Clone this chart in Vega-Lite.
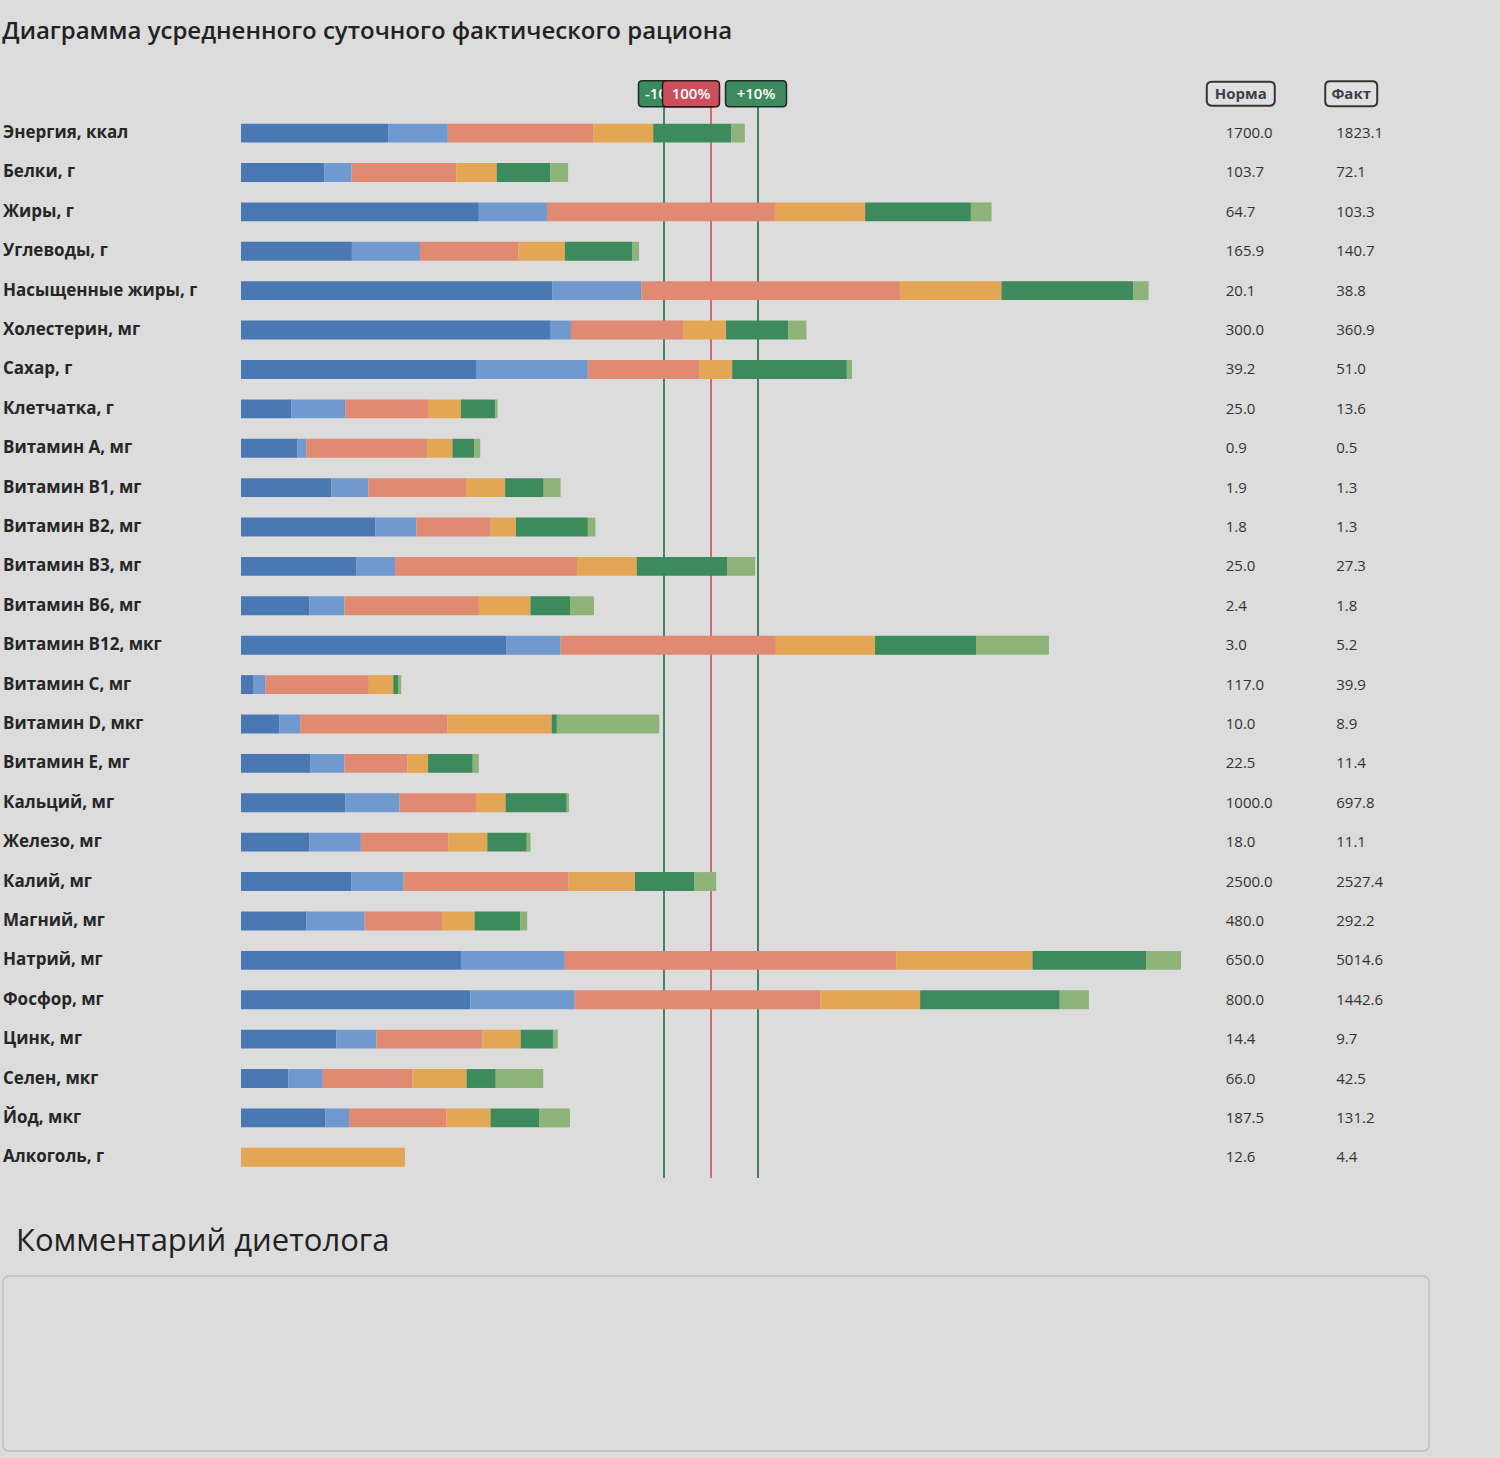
{
  "$schema": "https://vega.github.io/schema/vega-lite/v6.json",
  "background": "#dcdcdc",
  "padding": {"left": 2, "top": 20, "right": 70, "bottom": 6},
  "title": {"text": "Диаграмма усредненного суточного фактического рациона", "anchor": "start", "fontSize": 24, "fontWeight": 600, "font": "Open Sans", "color": "#222222", "offset": 30},
  "config": {"view": {"stroke": null}, "text": {"font": "Open Sans"}},
  "datasets": {
    "nutrients": [
      {"Нутриент": "Энергия, ккал", "Норма": 1700.0, "Факт": 1823.1, "m1": 31.3, "m2": 12.7, "m3": 31.0, "m4": 12.7, "m5": 16.6, "m6": 2.9},
      {"Нутриент": "Белки, г", "Норма": 103.7, "Факт": 72.1, "m1": 17.7, "m2": 5.8, "m3": 22.3, "m4": 8.6, "m5": 11.4, "m6": 3.8},
      {"Нутриент": "Жиры, г", "Норма": 64.7, "Факт": 103.3, "m1": 50.6, "m2": 14.5, "m3": 48.5, "m4": 19.2, "m5": 22.5, "m6": 4.4},
      {"Нутриент": "Углеводы, г", "Норма": 165.9, "Факт": 140.7, "m1": 23.6, "m2": 14.5, "m3": 20.9, "m4": 9.9, "m5": 14.4, "m6": 1.4},
      {"Нутриент": "Насыщенные жиры, г", "Норма": 20.1, "Факт": 38.8, "m1": 66.2, "m2": 19.0, "m3": 55.0, "m4": 21.6, "m5": 28.0, "m6": 3.3},
      {"Нутриент": "Холестерин, мг", "Норма": 300.0, "Факт": 360.9, "m1": 65.9, "m2": 4.3, "m3": 23.9, "m4": 9.1, "m5": 13.2, "m6": 3.9},
      {"Нутриент": "Сахар, г", "Норма": 39.2, "Факт": 51.0, "m1": 50.0, "m2": 23.8, "m3": 23.7, "m4": 7.0, "m5": 24.4, "m6": 1.1},
      {"Нутриент": "Клетчатка, г", "Норма": 25.0, "Факт": 13.6, "m1": 10.7, "m2": 11.5, "m3": 17.6, "m4": 7.0, "m5": 7.3, "m6": 0.5},
      {"Нутриент": "Витамин A, мг", "Норма": 0.9, "Факт": 0.5, "m1": 12.0, "m2": 1.9, "m3": 25.7, "m4": 5.4, "m5": 4.6, "m6": 1.3},
      {"Нутриент": "Витамин B1, мг", "Норма": 1.9, "Факт": 1.3, "m1": 19.2, "m2": 7.9, "m3": 20.8, "m4": 8.3, "m5": 8.2, "m6": 3.6},
      {"Нутриент": "Витамин B2, мг", "Норма": 1.8, "Факт": 1.3, "m1": 28.6, "m2": 8.7, "m3": 15.7, "m4": 5.5, "m5": 15.3, "m6": 1.6},
      {"Нутриент": "Витамин B3, мг", "Норма": 25.0, "Факт": 27.3, "m1": 24.6, "m2": 8.2, "m3": 38.7, "m4": 12.7, "m5": 19.2, "m6": 6.0},
      {"Нутриент": "Витамин B6, мг", "Норма": 2.4, "Факт": 1.8, "m1": 14.6, "m2": 7.4, "m3": 28.6, "m4": 11.0, "m5": 8.4, "m6": 5.1},
      {"Нутриент": "Витамин B12, мкг", "Норма": 3.0, "Факт": 5.2, "m1": 56.5, "m2": 11.5, "m3": 45.8, "m4": 21.1, "m5": 21.6, "m6": 15.4},
      {"Нутриент": "Витамин C, мг", "Норма": 117.0, "Факт": 39.9, "m1": 2.7, "m2": 2.5, "m3": 22.0, "m4": 5.2, "m5": 1.0, "m6": 0.7},
      {"Нутриент": "Витамин D, мкг", "Норма": 10.0, "Факт": 8.9, "m1": 8.2, "m2": 4.4, "m3": 31.3, "m4": 22.2, "m5": 1.1, "m6": 21.8},
      {"Нутриент": "Витамин E, мг", "Норма": 22.5, "Факт": 11.4, "m1": 14.7, "m2": 7.3, "m3": 13.4, "m4": 4.4, "m5": 9.5, "m6": 1.3},
      {"Нутриент": "Кальций, мг", "Норма": 1000.0, "Факт": 697.8, "m1": 22.2, "m2": 11.5, "m3": 16.3, "m4": 6.3, "m5": 13.0, "m6": 0.5},
      {"Нутриент": "Железо, мг", "Норма": 18.0, "Факт": 11.1, "m1": 14.6, "m2": 10.9, "m3": 18.6, "m4": 8.3, "m5": 8.4, "m6": 0.8},
      {"Нутриент": "Калий, мг", "Норма": 2500.0, "Факт": 2527.4, "m1": 23.5, "m2": 11.1, "m3": 35.1, "m4": 14.1, "m5": 12.7, "m6": 4.6},
      {"Нутриент": "Магний, мг", "Норма": 480.0, "Факт": 292.2, "m1": 13.9, "m2": 12.4, "m3": 16.6, "m4": 6.8, "m5": 9.7, "m6": 1.5},
      {"Нутриент": "Натрий, мг", "Норма": 650.0, "Факт": 5014.6, "m1": 46.8, "m2": 22.1, "m3": 70.5, "m4": 29.0, "m5": 24.2, "m6": 7.4},
      {"Нутриент": "Фосфор, мг", "Норма": 800.0, "Факт": 1442.6, "m1": 48.8, "m2": 22.2, "m3": 52.3, "m4": 21.2, "m5": 29.7, "m6": 6.2},
      {"Нутриент": "Цинк, мг", "Норма": 14.4, "Факт": 9.7, "m1": 20.3, "m2": 8.5, "m3": 22.6, "m4": 8.1, "m5": 6.9, "m6": 1.0},
      {"Нутриент": "Селен, мкг", "Норма": 66.0, "Факт": 42.5, "m1": 10.1, "m2": 7.3, "m3": 19.1, "m4": 11.5, "m5": 6.2, "m6": 10.1},
      {"Нутриент": "Йод, мкг", "Норма": 187.5, "Факт": 131.2, "m1": 18.0, "m2": 5.0, "m3": 20.7, "m4": 9.4, "m5": 10.3, "m6": 6.6},
      {"Нутриент": "Алкоголь, г", "Норма": 12.6, "Факт": 4.4, "m1": 0, "m2": 0, "m3": 0, "m4": 34.9, "m5": 0, "m6": 0}
    ],
    "thresholds": [
      {"pct": 90, "label": "-10%"},
      {"pct": 100, "label": "100%"},
      {"pct": 110, "label": "+10%"}
    ],
    "headers": [
      {"col": "Норма"},
      {"col": "Факт"}
    ]
  },
  "vconcat": [
    {
      "hconcat": [
        {
          "width": 218,
          "height": 1103,
          "data": {"name": "nutrients"},
          "mark": {"type": "text", "align": "left", "baseline": "middle", "font": "Open Sans", "fontWeight": "bold", "fontSize": 17, "color": "#262626"},
          "encoding": {
            "x": {"datum": 0, "type": "quantitative", "scale": {"domain": [0, 1]}, "axis": null},
            "y": {"field": "Нутриент", "type": "nominal", "axis": null, "scale": {"domain": [" ", "Энергия, ккал", "Белки, г", "Жиры, г", "Углеводы, г", "Насыщенные жиры, г", "Холестерин, мг", "Сахар, г", "Клетчатка, г", "Витамин A, мг", "Витамин B1, мг", "Витамин B2, мг", "Витамин B3, мг", "Витамин B6, мг", "Витамин B12, мкг", "Витамин C, мг", "Витамин D, мкг", "Витамин E, мг", "Кальций, мг", "Железо, мг", "Калий, мг", "Магний, мг", "Натрий, мг", "Фосфор, мг", "Цинк, мг", "Селен, мкг", "Йод, мкг", "Алкоголь, г"], "paddingInner": 0.52, "paddingOuter": 0.26}},
            "text": {"field": "Нутриент"}
          }
        },
        {
          "width": 940,
          "height": 1103,
          "layer": [
            {
              "data": {"name": "thresholds"},
              "transform": [{"filter": "datum.pct != 100"}],
              "mark": {"type": "rule", "color": "#1f6b40", "strokeWidth": 1.6},
              "encoding": {
                "x": {"field": "pct", "type": "quantitative", "scale": {"domain": [0, 200], "nice": false}, "axis": null},
                "y": {"datum": " ", "type": "nominal", "bandPosition": 1, "axis": null, "scale": {"domain": [" ", "Энергия, ккал", "Белки, г", "Жиры, г", "Углеводы, г", "Насыщенные жиры, г", "Холестерин, мг", "Сахар, г", "Клетчатка, г", "Витамин A, мг", "Витамин B1, мг", "Витамин B2, мг", "Витамин B3, мг", "Витамин B6, мг", "Витамин B12, мкг", "Витамин C, мг", "Витамин D, мкг", "Витамин E, мг", "Кальций, мг", "Железо, мг", "Калий, мг", "Магний, мг", "Натрий, мг", "Фосфор, мг", "Цинк, мг", "Селен, мкг", "Йод, мкг", "Алкоголь, г"], "paddingInner": 0.52, "paddingOuter": 0.26}},
                "y2": {"datum": "Алкоголь, г", "bandPosition": 1.6}
              }
            },
            {
              "data": {"name": "thresholds"},
              "transform": [{"filter": "datum.pct == 100"}],
              "mark": {"type": "rule", "color": "#d02a38", "strokeWidth": 1.3},
              "encoding": {
                "x": {"field": "pct", "type": "quantitative"},
                "y": {"datum": " ", "type": "nominal", "bandPosition": 1},
                "y2": {"datum": "Алкоголь, г", "bandPosition": 1.6}
              }
            },
            {
              "data": {"name": "nutrients"},
              "transform": [{"fold": ["m1", "m2", "m3", "m4", "m5", "m6"], "as": ["meal", "pct"]}],
              "mark": {"type": "bar", "clip": true},
              "encoding": {
                "y": {"field": "Нутриент", "type": "nominal"},
                "x": {"field": "pct", "type": "quantitative", "stack": "zero"},
                "color": {"field": "meal", "type": "nominal", "legend": null, "scale": {"domain": ["m1", "m2", "m3", "m4", "m5", "m6"], "range": ["#4a78b3", "#7099cf", "#e08a72", "#e3a654", "#3d8b5d", "#8db379"]}},
                "order": {"field": "meal", "type": "ordinal", "sort": "ascending"}
              }
            },
            {
              "data": {"name": "thresholds"},
              "transform": [{"filter": "datum.label == '-10%'"}],
              "mark": {"type": "point", "shape": "M-0.9,-0.33L0.9,-0.33Q1,-0.33 1,-0.23L1,0.23Q1,0.33 0.9,0.33L-0.9,0.33Q-1,0.33 -1,0.23L-1,-0.23Q-1,-0.33 -0.9,-0.33Z", "size": 6241, "filled": true, "fill": "#3d8a5e", "stroke": "#1c2a22", "strokeWidth": 1.5, "opacity": 1, "xOffset": 14},
              "encoding": {
                "x": {"field": "pct", "type": "quantitative"},
                "y": {"datum": " ", "type": "nominal"}
              }
            },
            {
              "data": {"name": "thresholds"},
              "transform": [{"filter": "datum.label == '-10%'"}],
              "mark": {"type": "text", "align": "left", "baseline": "middle", "dx": -19, "fontSize": 15, "fontWeight": 600, "color": "#ffffff"},
              "encoding": {
                "x": {"field": "pct", "type": "quantitative"},
                "y": {"datum": " ", "type": "nominal"},
                "text": {"field": "label"}
              }
            },
            {
              "data": {"name": "thresholds"},
              "transform": [{"filter": "datum.label == '100%'"}],
              "mark": {"type": "point", "shape": "M-0.86,-0.456L0.86,-0.456Q1,-0.456 1,-0.316L1,0.316Q1,0.456 0.86,0.456L-0.86,0.456Q-1,0.456 -1,0.316L-1,-0.316Q-1,-0.456 -0.86,-0.456Z", "size": 3249, "filled": true, "fill": "#cc4f5b", "stroke": "#2a1a1c", "strokeWidth": 1.5, "opacity": 1, "xOffset": -20},
              "encoding": {
                "x": {"field": "pct", "type": "quantitative"},
                "y": {"datum": " ", "type": "nominal"}
              }
            },
            {
              "data": {"name": "thresholds"},
              "transform": [{"filter": "datum.label == '+10%'"}],
              "mark": {"type": "point", "shape": "M-0.87,-0.426L0.87,-0.426Q1,-0.426 1,-0.296L1,0.296Q1,0.426 0.87,0.426L-0.87,0.426Q-1,0.426 -1,0.296L-1,-0.296Q-1,-0.426 -0.87,-0.426Z", "size": 3721, "filled": true, "fill": "#3d8a5e", "stroke": "#1c2a22", "strokeWidth": 1.5, "opacity": 1, "xOffset": -2},
              "encoding": {
                "x": {"field": "pct", "type": "quantitative"},
                "y": {"datum": " ", "type": "nominal"}
              }
            },
            {
              "data": {"name": "thresholds"},
              "transform": [{"filter": "datum.label == '100%'"}],
              "mark": {"type": "text", "align": "center", "baseline": "middle", "dx": -20, "fontSize": 15, "fontWeight": 600, "color": "#ffffff"},
              "encoding": {
                "x": {"field": "pct", "type": "quantitative"},
                "y": {"datum": " ", "type": "nominal"},
                "text": {"field": "label"}
              }
            },
            {
              "data": {"name": "thresholds"},
              "transform": [{"filter": "datum.label == '+10%'"}],
              "mark": {"type": "text", "align": "center", "baseline": "middle", "dx": -2, "fontSize": 15, "fontWeight": 600, "color": "#ffffff"},
              "encoding": {
                "x": {"field": "pct", "type": "quantitative"},
                "y": {"datum": " ", "type": "nominal"},
                "text": {"field": "label"}
              }
            }
          ]
        },
        {
          "width": 190,
          "height": 1103,
          "layer": [
            {
              "data": {"name": "nutrients"},
              "transform": [{"fold": ["Норма", "Факт"], "as": ["col", "val"]}],
              "mark": {"type": "text", "align": "left", "baseline": "middle", "dx": -15, "fontSize": 15, "color": "#333333"},
              "encoding": {
                "x": {"field": "col", "type": "nominal", "scale": {"type": "point", "domain": ["Норма", "Факт"], "padding": 0.36}, "axis": null},
                "y": {"field": "Нутриент", "type": "nominal", "axis": null, "scale": {"domain": [" ", "Энергия, ккал", "Белки, г", "Жиры, г", "Углеводы, г", "Насыщенные жиры, г", "Холестерин, мг", "Сахар, г", "Клетчатка, г", "Витамин A, мг", "Витамин B1, мг", "Витамин B2, мг", "Витамин B3, мг", "Витамин B6, мг", "Витамин B12, мкг", "Витамин C, мг", "Витамин D, мкг", "Витамин E, мг", "Кальций, мг", "Железо, мг", "Калий, мг", "Магний, мг", "Натрий, мг", "Фосфор, мг", "Цинк, мг", "Селен, мкг", "Йод, мкг", "Алкоголь, г"], "paddingInner": 0.52, "paddingOuter": 0.26}},
                "text": {"field": "val", "type": "quantitative", "format": ".1f"}
              }
            },
            {
              "data": {"name": "headers"},
              "transform": [{"filter": "datum.col == 'Норма'"}],
              "mark": {"type": "point", "shape": "M-0.85,-0.353L0.85,-0.353Q1,-0.353 1,-0.203L1,0.203Q1,0.353 0.85,0.353L-0.85,0.353Q-1,0.353 -1,0.203L-1,-0.203Q-1,-0.353 -0.85,-0.353Z", "size": 4624, "filled": true, "fill": "#e0e0e0", "stroke": "#333333", "strokeWidth": 2, "opacity": 1},
              "encoding": {
                "x": {"field": "col", "type": "nominal"},
                "y": {"datum": " ", "type": "nominal"}
              }
            },
            {
              "data": {"name": "headers"},
              "transform": [{"filter": "datum.col == 'Факт'"}],
              "mark": {"type": "point", "shape": "M-0.81,-0.48L0.81,-0.48Q1,-0.48 1,-0.29L1,0.29Q1,0.48 0.81,0.48L-0.81,0.48Q-1,0.48 -1,0.29L-1,-0.29Q-1,-0.48 -0.81,-0.48Z", "size": 2704, "filled": true, "fill": "#e0e0e0", "stroke": "#333333", "strokeWidth": 2, "opacity": 1},
              "encoding": {
                "x": {"field": "col", "type": "nominal"},
                "y": {"datum": " ", "type": "nominal"}
              }
            },
            {
              "data": {"name": "headers"},
              "mark": {"type": "text", "align": "center", "baseline": "middle", "fontSize": 15, "fontWeight": "bold", "color": "#3a3f4b"},
              "encoding": {
                "x": {"field": "col", "type": "nominal"},
                "y": {"datum": " ", "type": "nominal"},
                "text": {"field": "col"}
              }
            }
          ]
        }
      ],
      "spacing": 20
    },
    {
      "width": 1426,
      "height": 175,
      "title": {"text": "Комментарий диетолога", "anchor": "start", "fontSize": 31, "fontWeight": 500, "font": "Open Sans", "color": "#222222", "offset": 18, "dx": 13},
      "view": {"stroke": "#bdbdbd", "strokeWidth": 1.5, "cornerRadius": 6},
      "data": {"values": [{}]},
      "mark": {"type": "text"},
      "encoding": {"text": {"value": ""}}
    }
  ],
  "spacing": 46
}
